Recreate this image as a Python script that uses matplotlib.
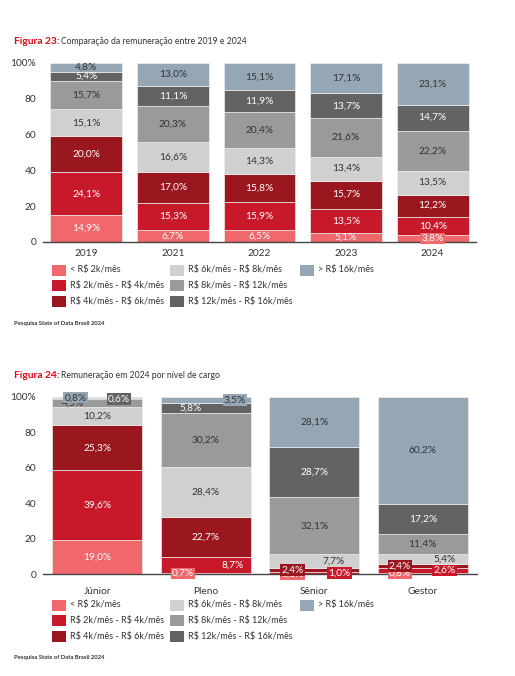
import numpy as np
import matplotlib
matplotlib.use("Agg")
import matplotlib.pyplot as plt
from matplotlib.patches import Rectangle

plt.rcParams['font.family'] = ['Lato', 'DejaVu Sans']
plt.rcParams['text.parse_math'] = False

# categories (faixas salariais)
faixas = ["< R$ 2k/mês", "R$ 2k/mês - R$ 4k/mês", "R$ 4k/mês - R$ 6k/mês",
          "R$ 6k/mês - R$ 8k/mês", "R$ 8k/mês - R$ 12k/mês",
          "R$ 12k/mês - R$ 16k/mês", "> R$ 16k/mês"]
cores = ["#F0686C", "#C8192B", "#9B1720", "#D0D0D0", "#9A9A9A", "#636363", "#95A6B4"]
texto_cor = ["white", "white", "white", "#333333", "#333333", "white", "#333333"]

# figura 23
anos = ["2019", "2021", "2022", "2023", "2024"]
menos_2k_ano = [14.9, 6.7, 6.5, 5.1, 3.8]
de_2_4k_ano = [24.1, 15.3, 15.9, 13.5, 10.4]
de_4_6k_ano = [20.0, 17.0, 15.8, 15.7, 12.2]
de_6_8k_ano = [15.1, 16.6, 14.3, 13.4, 13.5]
de_8_12k_ano = [15.7, 20.3, 20.4, 21.6, 22.2]
de_12_16k_ano = [5.4, 11.1, 11.9, 13.7, 14.7]
mais_16k_ano = [4.8, 13.0, 15.1, 17.1, 23.1]

# figura 24
cargos = ["Júnior", "Pleno", "Sênior", "Gestor"]
menos_2k_cargo = [19.0, 0.7, 0.1, 0.8]
de_2_4k_cargo = [39.6, 8.7, 1.0, 2.6]
de_4_6k_cargo = [25.3, 22.7, 2.4, 2.4]
de_6_8k_cargo = [10.2, 28.4, 7.7, 5.4]
de_8_12k_cargo = [4.5, 30.2, 32.1, 11.4]
de_12_16k_cargo = [0.6, 5.8, 28.7, 17.2]
mais_16k_cargo = [0.8, 3.5, 28.1, 60.2]

# deslocamento horizontal dos rótulos pequenos (faixa, barra) -> dx
nudge24 = {
    (4, 0): -0.22, (5, 0): 0.2, (6, 0): -0.2,
    (0, 1): -0.21, (1, 1): 0.25, (5, 1): -0.14, (6, 1): 0.27,
    (0, 2): -0.2, (1, 2): 0.23, (2, 2): -0.2, (3, 2): 0.18,
    (0, 3): -0.21, (1, 3): 0.2, (2, 3): -0.21, (3, 3): 0.2,
}

W, H = 515, 676
fig = plt.figure(figsize=(W / 100, H / 100), dpi=100)
FS = 7.3


def fmt(v):
    return f"{v:.1f}".replace(".", ",") + "%"


def px_axes(left, right, top, bottom):
    return fig.add_axes([left / W, 1 - bottom / H, (right - left) / W, (bottom - top) / H])


def stacked(ax, cats, series, nudge, xpad):
    x = np.arange(len(cats))
    base = np.zeros(len(cats))
    for k, vals in enumerate(series):
        vals = np.array(vals)
        ax.bar(x, vals, 0.83, bottom=base, color=cores[k], edgecolor="#EEEEEE",
               linewidth=0.5, zorder=2)
        for i, v in enumerate(vals):
            y = base[i] + v / 2
            dx = nudge.get((k, i), 0)
            kw = {}
            if v < 4:
                kw["bbox"] = dict(boxstyle="square,pad=0.12", fc=cores[k], ec="none")
            ax.text(i + dx, y, fmt(v), ha="center", va="center", fontsize=FS,
                    color=texto_cor[k], zorder=5, **kw)
        base = base + vals
    ax.set_xlim(-0.5, len(cats) - 0.5)
    ax.set_ylim(0, 100)
    ax.set_yticks([0, 20, 40, 60, 80, 100])
    ax.set_yticklabels(["0", "20", "40", "60", "80", "100%"])
    ax.set_xticks(x)
    ax.set_xticklabels(cats)
    ax.tick_params(length=0, labelsize=FS, colors="#333333")
    ax.tick_params(axis="x", pad=xpad)
    ax.tick_params(axis="y", pad=5)
    for s in ["top", "right", "left"]:
        ax.spines[s].set_visible(False)
    ax.spines["bottom"].set_color("#444444")
    ax.spines["bottom"].set_linewidth(1.0)
    ax.spines["bottom"].set_zorder(3)


def title(y_px, num, rest):
    t = fig.text(14 / W, 1 - y_px / H, f"Figura {num}:", color="#E30613",
                 fontsize=7.3, fontweight="bold", va="center")
    fig.canvas.draw()
    bb = t.get_window_extent()
    fig.text(bb.x1 / W + 2 / W, 1 - y_px / H, rest, color="#333333", fontsize=6.2,
             va="center")


def legenda(row0_px):
    # 3 colunas: 3, 3, 1 itens
    cols_px = [52, 170, 300]
    for k, nome in enumerate(faixas):
        c, r = divmod(k, 3)
        xs = cols_px[c]
        yc = row0_px + r * 15.8
        fig.patches.append(Rectangle((xs / W, 1 - (yc + 5.5) / H), 13.5 / W, 11 / H,
                                     transform=fig.transFigure, fc=cores[k], ec="none"))
        fig.text((xs + 18) / W, 1 - yc / H, nome, fontsize=6.5, color="#333333",
                 va="center")


def fonte(y_px):
    fig.text(14 / W, 1 - y_px / H, "Pesquisa State of Data Brasil 2024", fontsize=4.2,
             fontweight="bold", color="#333333", va="center")


ax1 = px_axes(43, 476, 63, 242)
stacked(ax1, anos, [menos_2k_ano, de_2_4k_ano, de_4_6k_ano, de_6_8k_ano,
                    de_8_12k_ano, de_12_16k_ano, mais_16k_ano], {}, 5)
title(42, 23, "Comparação da remuneração entre 2019 e 2024")
legenda(270)
fonte(324)

ax2 = px_axes(43, 477, 397, 574)
stacked(ax2, cargos, [menos_2k_cargo, de_2_4k_cargo, de_4_6k_cargo, de_6_8k_cargo,
                      de_8_12k_cargo, de_12_16k_cargo, mais_16k_cargo], nudge24, 9)
title(376, 24, "Remuneração em 2024 por nível de cargo")
legenda(605)
fonte(657)

fig.savefig("out.png", dpi=100, facecolor="white")
